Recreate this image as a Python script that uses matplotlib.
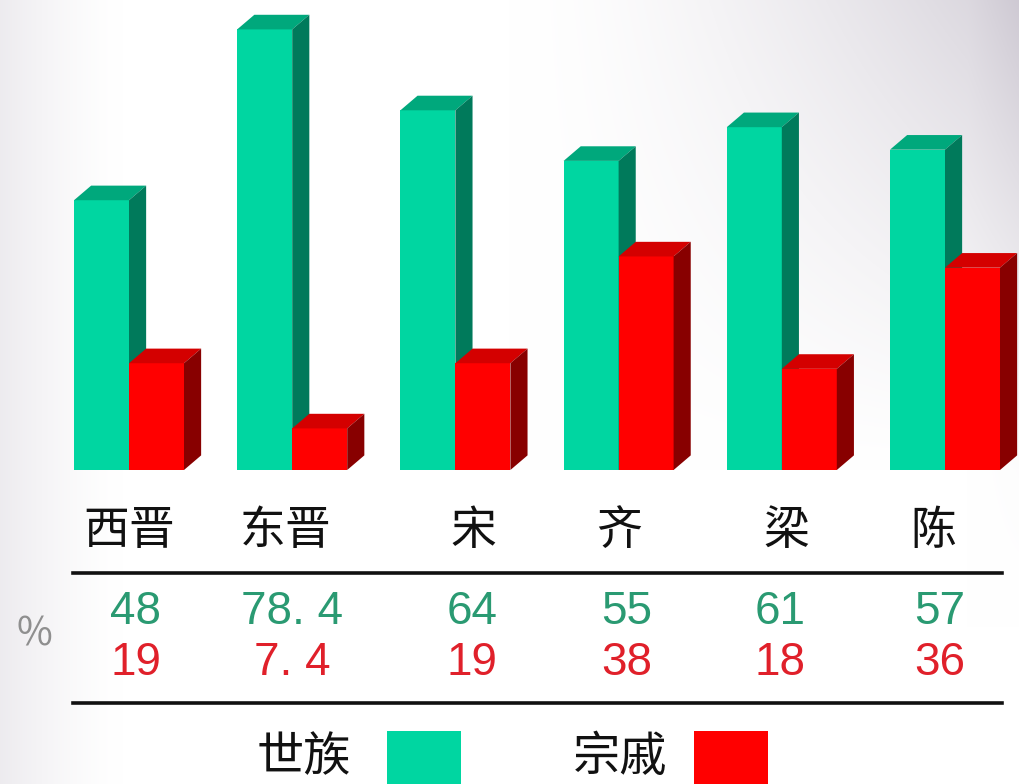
"""
Share of office held by great clans (世族) versus imperial relatives (宗戚)
across the six dynasties, drawn as paired pseudo-3D bars with a value table.
"""

import numpy as np
import matplotlib
matplotlib.use("Agg")
import matplotlib.pyplot as plt
from matplotlib.patches import Polygon, Rectangle
from matplotlib.lines import Line2D
from matplotlib.transforms import blended_transform_factory

plt.rcParams["font.family"] = ["Noto Sans CJK SC", "DejaVu Sans"]

# ── Data ──────────────────────────────────────────────────────────────────────
dynasties   = ["西晋", "东晋", "宋", "齐", "梁", "陈"]
shizu       = [48, 78.4, 64, 55, 61, 57]
zongqi      = [19, 7.4, 19, 38, 18, 36]
shizu_text  = ["48", "78. 4", "64", "55", "61", "57"]
zongqi_text = ["19", "7. 4", "19", "38", "18", "36"]
legend_names = ["世族", "宗戚"]

# ── Style ─────────────────────────────────────────────────────────────────────
W, H = 1019, 784
GREEN = dict(front="#00D6A1", top="#00A87C", side="#007A5B")
RED   = dict(front="#FF0000", top="#D40000", side="#880000")
GREEN_TXT, RED_TXT = "#2A9A72", "#E0202A"
NUM_FONT = ["Liberation Sans", "DejaVu Sans"]

BAR_W   = 0.337   # front face width in group units
DEPTH_X = 0.105   # extrusion to the right (group units)
DEPTH_Y = 2.6     # extrusion upwards (value units)

# small horizontal nudges (group units) for the table columns
label_nudge = [0.0, -0.04, 0.11, 0.0, 0.03, -0.07]
value_nudge = [0.04, 0.0, 0.1, 0.05, -0.01, -0.03]


def fy(px_from_top):
    """Pixel row measured from the top -> figure fraction."""
    return 1 - px_from_top / H


def fx(px):
    return px / W


def draw_bars(ax, x_left, heights, colors, z):
    """Front faces through ax.bar, then top and right faces as polygons."""
    ax.bar(x_left, heights, width=BAR_W, align="edge", color=colors["front"],
           linewidth=0, zorder=z)
    for x0, h in zip(x_left, heights):
        x1 = x0 + BAR_W
        top = [(x0, h), (x0 + DEPTH_X, h + DEPTH_Y),
               (x1 + DEPTH_X, h + DEPTH_Y), (x1, h)]
        side = [(x1, 0), (x1 + DEPTH_X, DEPTH_Y),
                (x1 + DEPTH_X, h + DEPTH_Y), (x1, h)]
        ax.add_patch(Polygon(top, closed=True, fc=colors["top"], lw=0, zorder=z))
        ax.add_patch(Polygon(side, closed=True, fc=colors["side"], lw=0, zorder=z))


fig = plt.figure(figsize=(W / 100, H / 100), dpi=100)

# ── Background: white with soft grey corners ──────────────────────────────────
bg = fig.add_axes([0, 0, 1, 1], zorder=0)
u = np.linspace(0, 1, W)[None, :]
v = np.linspace(0, 1, H)[:, None]
shade = (0.16 * np.clip((u - 0.5) / 0.5, 0, 1) ** 1.5
         * np.clip((0.6 - v) / 0.6, 0, 1) ** 1.1
         + 0.07 * np.clip((0.12 - u) / 0.12, 0, 1) ** 1.4
         + 0.03 * np.clip((u - 0.95) / 0.05, 0, 1) * np.clip((0.8 - v) / 0.8, 0, 1))
img = np.ones((H, W, 3))
img[..., 0] -= shade * 1.00
img[..., 1] -= shade * 1.10
img[..., 2] -= shade * 0.90
bg.imshow(np.clip(img, 0, 1), aspect="auto", extent=(0, 1, 0, 1))
bg.axis("off")

# ── Bars ──────────────────────────────────────────────────────────────────────
ax = fig.add_axes([0, 0, 1, 1], zorder=1)
ax.patch.set_alpha(0)
px_per_group, px_per_unit = 163.2, 5.62
base_px, first_center_px = 470, 129
ax.set_xlim(-first_center_px / px_per_group, (W - first_center_px) / px_per_group)
ax.set_ylim(-(H - base_px) / px_per_unit, base_px / px_per_unit)
ax.axis("off")

centers = np.arange(len(dynasties))
draw_bars(ax, centers - BAR_W, shizu, GREEN, 2)
draw_bars(ax, centers, zongqi, RED, 3)

# ── Value table ───────────────────────────────────────────────────────────────
tr = blended_transform_factory(ax.transData, fig.transFigure)
for i, name in enumerate(dynasties):
    ax.text(centers[i] + label_nudge[i], fy(531), name, transform=tr,
            ha="center", va="center", fontsize=33, color="#111111")
    ax.text(centers[i] + value_nudge[i], fy(612), shizu_text[i],
            transform=tr, ha="center", va="center", fontsize=33,
            color=GREEN_TXT, family=NUM_FONT)
    ax.text(centers[i] + value_nudge[i], fy(663), zongqi_text[i],
            transform=tr, ha="center", va="center", fontsize=33,
            color=RED_TXT, family=NUM_FONT)

for row in (573, 703):
    fig.add_artist(Line2D([fx(73), fx(1002)], [fy(row), fy(row)],
                          color="#111111", lw=2.6, zorder=4))

fig.text(fx(34), fy(634), "%", ha="center", va="center", fontsize=28,
         color="#8f8f8f", fontweight="light")

# ── Legend ────────────────────────────────────────────────────────────────────
fig.text(fx(304), fy(758), legend_names[0], ha="center", va="center",
         fontsize=34, color="#111111")
fig.text(fx(620), fy(758), legend_names[1], ha="center", va="center",
         fontsize=34, color="#111111")
for x0, col in ((387, GREEN["front"]), (694, RED["front"])):
    fig.add_artist(Rectangle((fx(x0), fy(800)), fx(74), fy(731) - fy(800),
                             transform=fig.transFigure, fc=col, lw=0,
                             zorder=4))

fig.savefig("out.png", dpi=100)
